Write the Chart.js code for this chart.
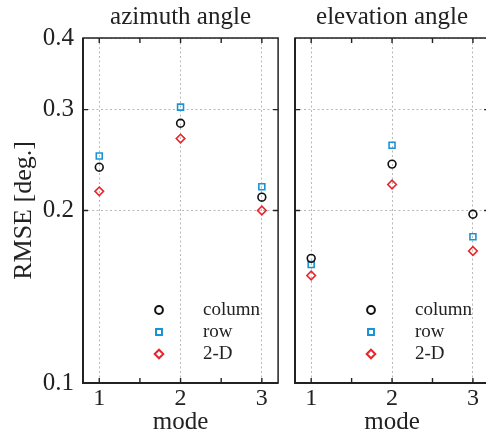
<!DOCTYPE html>
<html>
<head>
<meta charset="utf-8">
<script src="https://cdn.jsdelivr.net/npm/chart.js@4.4.1/dist/chart.umd.min.js"></script>
<style>
  html, body { margin: 0; padding: 0; background: #fff; overflow: hidden; }
  #wrap { position: relative; width: 486px; height: 435px; overflow: hidden; }
  #az { position: absolute; left: 0; top: 0; }
  #el { position: absolute; left: 284px; top: 0; }
</style>
</head>
<body>
<div id="wrap">
  <canvas id="az" width="284" height="435"></canvas>
  <canvas id="el" width="211" height="435"></canvas>
</div>
<script>
// RMSE per mode, one array per method
const modes = [1, 2, 3];
const seriesNames = ['column', 'row', '2-D'];

const azColumn = [0.238, 0.284, 0.211];
const azRow    = [0.249, 0.303, 0.220];
const az2D     = [0.216, 0.267, 0.200];

const elColumn = [0.165, 0.241, 0.197];
const elRow    = [0.161, 0.260, 0.180];
const el2D     = [0.154, 0.222, 0.170];

const yTicks = [0.1, 0.2, 0.3, 0.4];
const xTicks = [1, 2, 3];
const xMinor = [1.5, 2.5];

const serif = '"Liberation Serif", "Times New Roman", serif';
const ink = '#222';
const markers = [
  { pointStyle: 'circle',  radius: 3.9, color: '#111111' },
  { pointStyle: 'rect',    radius: 4.2, color: '#1a93d6' },
  { pointStyle: 'rectRot', radius: 4.3, color: '#e8252b' }
];

function points(vals) {
  return modes.map((m, i) => ({ x: m, y: vals[i] }));
}

function makeDatasets(cols) {
  return cols.map((vals, k) => ({
    label: seriesNames[k],
    data: points(vals),
    pointStyle: markers[k].pointStyle,
    pointRadius: markers[k].radius,
    pointHoverRadius: markers[k].radius,
    pointBorderWidth: 1.6,
    borderColor: markers[k].color,
    backgroundColor: 'rgba(0,0,0,0)',
    showLine: false
  }));
}

// matlab-style box with inward ticks, plus the marker key inside the axes
const frame = {
  id: 'frame',
  afterDraw(chart) {
    const { ctx, chartArea: a, scales: { x, y } } = chart;
    ctx.save();
    ctx.strokeStyle = ink;
    ctx.lineWidth = 1.4;
    ctx.beginPath();
    xTicks.concat(xMinor).forEach(v => {
      const px = x.getPixelForValue(v);
      ctx.moveTo(px, a.top);    ctx.lineTo(px, a.top + 5);
      ctx.moveTo(px, a.bottom); ctx.lineTo(px, a.bottom - 5);
    });
    yTicks.slice(1, -1).forEach(v => {
      const py = y.getPixelForValue(v);
      ctx.moveTo(a.left, py);  ctx.lineTo(a.left + 5, py);
      ctx.moveTo(a.right, py); ctx.lineTo(a.right - 5, py);
    });
    ctx.stroke();

    ctx.lineWidth = 1.5;
    ctx.strokeRect(a.left, a.top, a.right - a.left, a.bottom - a.top);
    ctx.lineWidth = 2;
    ctx.beginPath();
    ctx.moveTo(a.left, a.top);
    ctx.lineTo(a.left, a.bottom);
    ctx.lineTo(a.right, a.bottom);
    ctx.stroke();

    // key
    ctx.font = '19px ' + serif;
    ctx.textBaseline = 'middle';
    ctx.textAlign = 'left';
    markers.forEach((m, k) => {
      const ky = a.top + 272 + 22 * k;
      ctx.strokeStyle = m.color;
      ctx.fillStyle = 'rgba(0,0,0,0)';
      Chart.helpers.drawPoint(ctx, {
        pointStyle: m.pointStyle, radius: m.radius, borderWidth: 1.6, rotation: 0
      }, a.left + 76, ky);
      ctx.fillStyle = ink;
      ctx.fillText(seriesNames[k], a.left + 120, ky);
    });
    ctx.restore();
  }
};

function makeChart(id, title, cols, showY, yWidth) {
  return new Chart(document.getElementById(id), {
    type: 'scatter',
    data: { datasets: makeDatasets(cols) },
    plugins: [frame],
    options: {
      responsive: false,
      animation: false,
      events: [],
      layout: { padding: { left: 0, right: 5, top: 0, bottom: 0 } },
      plugins: {
        legend: { display: false },
        tooltip: { enabled: false },
        title: {
          display: true,
          text: title,
          fullSize: false,
          color: ink,
          font: { family: serif, size: 25, weight: 'normal', lineHeight: 1.2 },
          padding: { top: 2, bottom: 6 }
        }
      },
      scales: {
        x: {
          type: 'linear',
          min: 0.8,
          max: 3.2,
          afterBuildTicks: s => { s.ticks = xTicks.map(v => ({ value: v })); },
          afterFit: s => { s.height = 52; },
          grid: { color: '#b8b8b8', lineWidth: 1, drawTicks: false },
          border: { display: false, dash: [2, 2.5] },
          ticks: {
            color: ink, padding: 4, autoSkip: false, maxRotation: 0,
            font: { family: serif, size: 24, lineHeight: 1 }
          },
          title: {
            display: true, text: 'mode', color: ink, padding: 0,
            font: { family: serif, size: 25, lineHeight: 1 }
          }
        },
        y: {
          type: 'logarithmic',
          min: 0.1,
          max: 0.4,
          afterBuildTicks: s => { s.ticks = yTicks.map(v => ({ value: v })); },
          afterFit: s => { s.width = yWidth; },
          grid: { color: '#b8b8b8', lineWidth: 1, drawTicks: false },
          border: { display: false, dash: [2, 2.5] },
          ticks: {
            display: showY, color: ink, padding: 9,
            font: { family: serif, size: 25, lineHeight: 1 },
            callback: v => Number(v).toFixed(1)
          },
          title: {
            display: showY, text: 'RMSE [deg.]', color: ink,
            padding: { top: 11, bottom: 0 },
            font: { family: serif, size: 26, lineHeight: 1 }
          }
        }
      }
    }
  });
}

makeChart('az', 'azimuth angle', [azColumn, azRow, az2D], true, 83);
makeChart('el', 'elevation angle', [elColumn, elRow, el2D], false, 11);
</script>
</body>
</html>
